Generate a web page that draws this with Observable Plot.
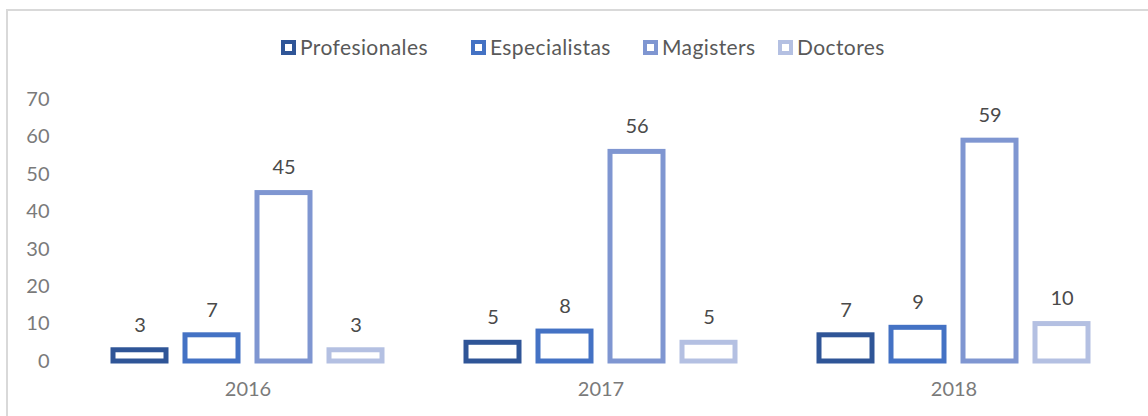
<!DOCTYPE html>
<html>
<head>
<meta charset="utf-8">
<script src="https://cdn.jsdelivr.net/npm/d3@7"></script>
<script src="https://cdn.jsdelivr.net/npm/@observablehq/plot@0.6"></script>
<style>
  body { margin: 0; background: #fff; font-family: Lato, "Open Sans", sans-serif; }
  #page { position: relative; width: 1148px; height: 416px; overflow: hidden; }
  #frame { position: absolute; left: 6px; top: 9px; right: -4px; bottom: -10px;
           border-left: 2px solid #d9d9d9; border-top: 2px solid #d9d9d9; }
  #legend { position: relative; height: 80px; }
  .item { position: absolute; top: 35px; display: flex; align-items: center;
          font-size: 21px; letter-spacing: 0.4px; color: #595959; line-height: 24px; }
  .sw { width: 7px; height: 7px; border: 4px solid; background: #fff; margin-right: 4px; }
  #chart { position: relative; }
</style>
</head>
<body>
<div id="page">
  <div id="frame"></div>
  <div id="legend"></div>
  <div id="chart"></div>
</div>
<script>
const years = ["2016", "2017", "2018"];
const series = ["Profesionales", "Especialistas", "Magisters", "Doctores"];
const profesionales = [3, 5, 7];
const especialistas = [7, 8, 9];
const magisters = [45, 56, 59];
const doctores = [3, 5, 10];
const colors = ["#2f5597", "#4472c4", "#7f96d1", "#b4c0e2"];
const yTicks = [0, 10, 20, 30, 40, 50, 60, 70];
const legendX = [281, 471, 643, 778];

const valuesBySeries = [profesionales, especialistas, magisters, doctores];
const rows = [];
years.forEach((yr, i) => {
  series.forEach((s, j) => rows.push({year: yr, series: s, value: valuesBySeries[j][i]}));
});

// legend
const legend = document.getElementById("legend");
series.forEach((s, j) => {
  const it = document.createElement("div");
  it.className = "item";
  it.style.left = legendX[j] + "px";
  const sw = document.createElement("span");
  sw.className = "sw";
  sw.style.borderColor = colors[j];
  const t = document.createElement("span");
  t.textContent = s;
  it.appendChild(sw); it.appendChild(t);
  legend.appendChild(it);
});

const chart = Plot.plot({
  width: 1148,
  height: 336,
  marginLeft: 70,
  marginRight: 18,
  marginTop: 19,
  marginBottom: 55,
  style: {fontFamily: "Lato, 'Open Sans', sans-serif", background: "transparent", overflow: "visible"},
  fx: {domain: years, padding: 0, label: null},
  x: {domain: series, paddingInner: 0.264, paddingOuter: 0.58, axis: null},
  y: {domain: [0, 70], ticks: yTicks, label: null},
  color: {domain: series, range: colors},
  marks: [
    Plot.axisY({ticks: yTicks, tickSize: 0, tickPadding: 22, fontSize: 20, fill: "#7a7a7a", label: null}),
    Plot.axisFx({anchor: "bottom", tickSize: 0, tickPadding: 20, fontSize: 20, fill: "#7a7a7a", label: null}),
    Plot.barY(rows, {fx: "year", x: "series", y: "value", fill: "white", stroke: "series", strokeWidth: 5}),
    Plot.text(rows, {fx: "year", x: "series", y: "value", text: d => String(d.value), dy: -25, fontSize: 20, fill: "#4a4a4a"})
  ]
});
document.getElementById("chart").appendChild(chart);
</script>
</body>
</html>
